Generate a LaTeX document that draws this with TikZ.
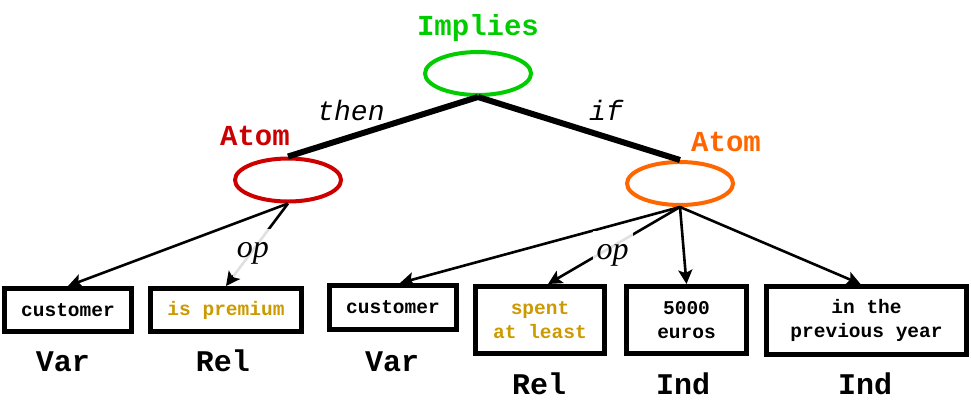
\documentclass[tikz,border=0pt]{standalone}
\usepackage{fontspec}
\setmonofont{Liberation Mono}
\newfontfamily\opfont{Liberation Serif}
\usetikzlibrary{arrows.meta,shapes.geometric}
\definecolor{implgreen}{RGB}{0,204,0}
\definecolor{atomred}{RGB}{204,0,0}
\definecolor{atomorange}{RGB}{255,102,0}
\definecolor{relgold}{RGB}{204,153,0}

\begin{document}
\begin{tikzpicture}[x=1pt, y=-1pt, line width=2.6pt,
    blob/.style={ellipse, draw, line width=4pt, minimum width=106pt, minimum height=43pt, inner sep=0pt},
    box/.style={draw, line width=5pt, inner sep=0pt, align=center,
      font=\ttfamily\bfseries\fontsize{19.5}{24}\selectfont},
    tag/.style={anchor=base, font=\ttfamily\bfseries\fontsize{29}{32}\selectfont},
    kind/.style={anchor=base, font=\ttfamily\bfseries\fontsize{30}{32}\selectfont},
    role/.style={anchor=base, font=\ttfamily\itshape\fontsize{28}{30}\selectfont},
    oplab/.style={font=\opfont\itshape\fontsize{32}{34}\selectfont, fill=white, fill opacity=0.88,
      text opacity=1, minimum width=40pt, minimum height=48pt, inner sep=0pt},
    arg/.style={-{Stealth[length=14pt,width=14pt,inset=3pt]}},
    link/.style={line width=6pt}]
  \useasboundingbox (0,0) rectangle (971,408);
  % rule and its two atoms
  \node[blob, draw=implgreen] (impl) at (478,73.5) {};
  \node[tag, text=implgreen] (implt) at (478,35) {Implies};
  \node[blob, draw=atomred] (head) at (288,180) {};
  \node[tag, text=atomred] (headt) at (255,145) {Atom};
  \node[blob, draw=atomorange] (body) at (680,183.5) {};
  \node[tag, text=atomorange] (bodyt) at (726,151) {Atom};
  \draw[link] (impl.south) -- (head.north);
  \draw[link] (impl.south) -- (body.north);
  \node[role] (thent) at (351,120) {then};
  \node[role] (ift) at (606,120) {if};
  % arguments of the head
  \node[box, minimum width=127pt, minimum height=43pt] (b1) at (68,310) {customer};
  \node[box, minimum width=151pt, minimum height=43pt, text=relgold] (b2) at (226,310) {is premium};
  \node[kind] (k1) at (63,371) {Var};
  \node[kind] (k2) at (223,371) {Rel};
  \draw[arg] (head.south) -- (b1.north);
  \draw[arg] (head.south) -- node[oplab, pos=0.6, xshift=2pt] (op1) {op} (b2.north);
  % arguments of the body
  \node[box, minimum width=127pt, minimum height=44pt] (b3) at (393,307.5) {customer};
  \node[box, minimum width=129pt, minimum height=67pt, text=relgold] (b4) at (540,320) {spent\\at least};
  \node[box, minimum width=120pt, minimum height=67pt] (b5) at (686.5,320) {5000\\euros};
  \node[box, minimum width=200pt, minimum height=68pt] (b6) at (866.5,320.5) {in the\\previous year};
  \node[kind] (k3) at (392,371) {Var};
  \node[kind] (k4) at (539,394) {Rel};
  \node[kind] (k5) at (683,394) {Ind};
  \node[kind] (k6) at (865,394) {Ind};
  \draw[arg] (body.south) -- ([xshift=7pt]b3.north);
  \draw[arg] (body.south) -- node[oplab, pos=0.51, yshift=-9pt] (op2) {op} ([xshift=8pt]b4.north);
  \draw[arg] (body.south) -- (b5.north);
  \draw[arg] (body.south) -- ([xshift=-6pt]b6.north);
\end{tikzpicture}
\end{document}
